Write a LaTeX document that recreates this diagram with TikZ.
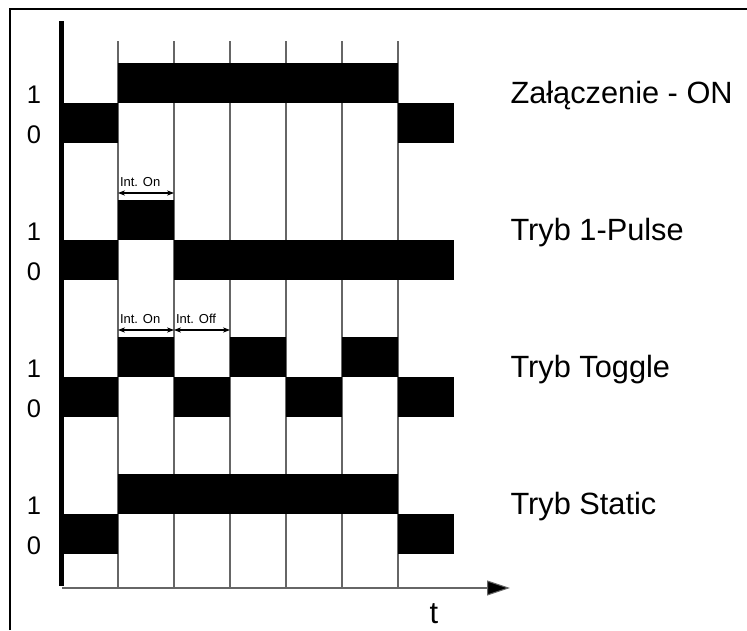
\documentclass[tikz,border=0pt]{standalone}
\usepackage{fontspec}
\setmainfont{Liberation Sans}
\usetikzlibrary{arrows.meta}

\begin{document}
\begin{tikzpicture}[x=1cm,y=1cm,line width=0.6pt,
  sig/.style={fill=black,draw=none},
  gridline/.style={draw=black!60,line width=0.6pt},
  dimarrow/.style={{Stealth[length=4pt,width=3pt]}-{Stealth[length=4pt,width=3pt]},line width=0.7pt},
  level/.style={font=\fontsize{14.5pt}{16pt}\selectfont,anchor=base,inner sep=0pt},
  mode/.style={font=\fontsize{17.5pt}{20pt}\selectfont,anchor=base west,inner sep=0pt},
  interval/.style={font=\fontsize{7.4pt}{8pt}\selectfont,anchor=base west,inner sep=0pt}]
\useasboundingbox (0,0) rectangle (14.94,12.6);
% frame
\draw[line width=0.8pt] (0.2,0) -- (0.2,12.42) -- (14.94,12.42);
% grid lines
\foreach \gx in {2.36,3.48,4.60,5.72,6.84,7.96}
  \draw[gridline] (\gx,11.78) -- (\gx,0.84);
% Zalaczenie - ON
\fill[sig] (1.24,9.74) rectangle (2.36,10.54);
\fill[sig] (2.36,10.54) rectangle (7.96,11.34);
\fill[sig] (7.96,9.74) rectangle (9.08,10.54);
% Tryb 1-Pulse
\fill[sig] (1.24,7.00) rectangle (2.36,7.80);
\fill[sig] (2.36,7.80) rectangle (3.48,8.60);
\fill[sig] (3.48,7.00) rectangle (9.08,7.80);
% Tryb Toggle
\fill[sig] (1.24,4.26) rectangle (2.36,5.06);
\fill[sig] (2.36,5.06) rectangle (3.48,5.86);
\fill[sig] (3.48,4.26) rectangle (4.60,5.06);
\fill[sig] (4.60,5.06) rectangle (5.72,5.86);
\fill[sig] (5.72,4.26) rectangle (6.84,5.06);
\fill[sig] (6.84,5.06) rectangle (7.96,5.86);
\fill[sig] (7.96,4.26) rectangle (9.08,5.06);
% Tryb Static
\fill[sig] (1.24,1.52) rectangle (2.36,2.32);
\fill[sig] (2.36,2.32) rectangle (7.96,3.12);
\fill[sig] (7.96,1.52) rectangle (9.08,2.32);
% axes
\coordinate (origin) at (1.24,0.84);
\coordinate (tend) at (10.2,0.84);
\coordinate (vtop) at (1.23,12.18);
\coordinate (vbot) at (1.23,0.88);
\draw[line width=2.3pt] (vtop) -- (vbot);
\draw[black!60,-{Triangle[length=13pt,width=8.5pt,fill=black]}] (origin) -- (tend);
\node[mode,anchor=base] (tlabel) at (8.68,0.14) {t};
% levels
\foreach \b [count=\i] in {10.54,7.80,5.06,2.32} {
  \node[level] (one\i) at (0.68,\b) {1};
  \node[level] (zero\i) at (0.68,\b-0.8) {0};
}
% mode names
\node[mode] (on) at (10.2,10.54) {Załączenie - ON};
\node[mode] (pulse) at (10.2,7.80) {Tryb 1-Pulse};
\node[mode] (toggle) at (10.2,5.06) {Tryb Toggle};
\node[mode] (static) at (10.2,2.32) {Tryb Static};
% intervals
\coordinate (pa) at (2.36,8.74);
\coordinate (pb) at (3.48,8.74);
\draw[dimarrow] (pa) -- (pb);
\node[interval] (pon) at (2.39,8.88) {Int. On};
\coordinate (ta) at (2.36,6.00);
\coordinate (tb) at (3.48,6.00);
\coordinate (tc) at (4.60,6.00);
\draw[dimarrow] (ta) -- (tb);
\draw[dimarrow] (tb) -- (tc);
\node[interval] (ton) at (2.39,6.14) {Int. On};
\node[interval] (toff) at (3.51,6.14) {Int. Off};
\end{tikzpicture}
\end{document}
